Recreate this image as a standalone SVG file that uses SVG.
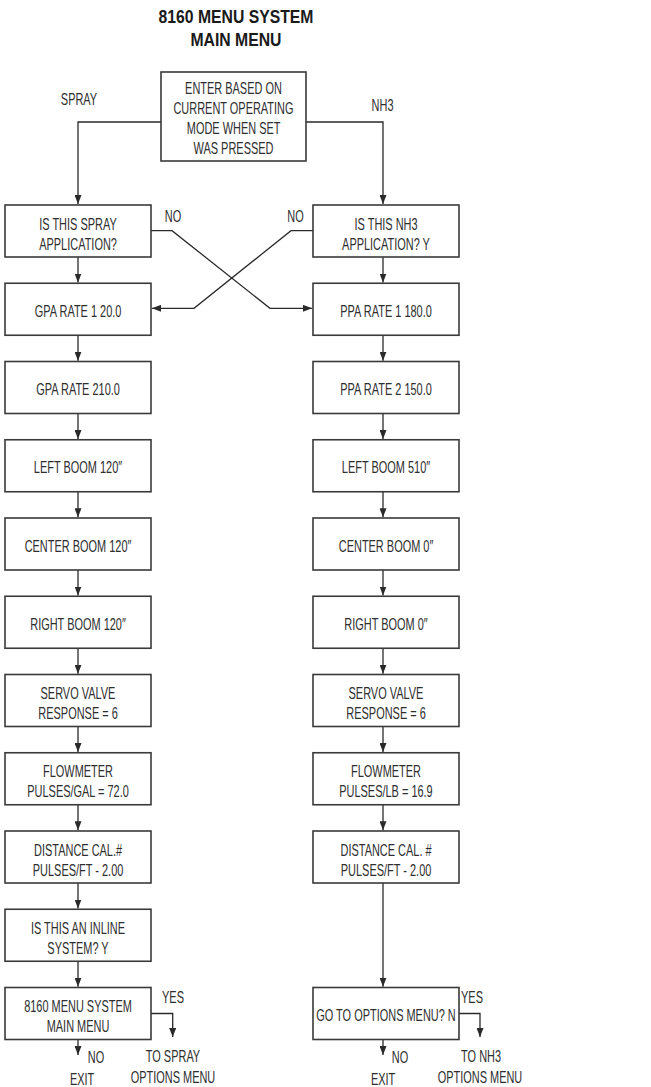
<svg xmlns="http://www.w3.org/2000/svg" width="651" height="1087" viewBox="0 0 651 1087">
<style>
.b{fill:#fff;stroke:#3a3a3a;stroke-width:1.6}
.c{fill:none;stroke:#2a2a2a;stroke-width:1.3}
text{font-family:"Liberation Sans",Arial,sans-serif;font-size:16px;fill:#2e2e2e;text-anchor:middle;transform-box:fill-box;transform-origin:center;transform:scaleX(0.685)}
.h{font-size:19px;font-weight:bold;fill:#1a1a1a;transform:scaleX(0.83)}
</style>
<defs>
<marker id="a" markerUnits="userSpaceOnUse" markerWidth="10" markerHeight="7" refX="9" refY="3.5" orient="auto">
<path d="M0,0 L9,3.5 L0,7 z" fill="#2a2a2a"/>
</marker>
</defs>
<rect width="651" height="1087" fill="#fff"/>
<g id="title">
<text class="h" x="236" y="23">8160 MENU SYSTEM</text>
<text class="h" x="236" y="46">MAIN MENU</text>
</g>
<g id="connectors">
<path class="c" marker-end="url(#a)" d="M161,122 H78 V204"/>
<path class="c" marker-end="url(#a)" d="M306,122 H383 V204"/>
<path class="c" marker-end="url(#a)" d="M151,230.7 H172 L270,308.3 H312"/>
<path class="c" marker-end="url(#a)" d="M313,230.7 H291 L194,308.3 H152"/>
<path class="c" marker-end="url(#a)" d="M78,257 V282.5"/>
<path class="c" marker-end="url(#a)" d="M78,335.25 V360.75"/>
<path class="c" marker-end="url(#a)" d="M78,413.5 V439"/>
<path class="c" marker-end="url(#a)" d="M78,491.75 V517.25"/>
<path class="c" marker-end="url(#a)" d="M78,570 V595.5"/>
<path class="c" marker-end="url(#a)" d="M78,648.25 V673.75"/>
<path class="c" marker-end="url(#a)" d="M78,726.5 V752"/>
<path class="c" marker-end="url(#a)" d="M78,804.75 V830.25"/>
<path class="c" marker-end="url(#a)" d="M78,883 V908.5"/>
<path class="c" marker-end="url(#a)" d="M78,961.25 V986.75"/>
<path class="c" marker-end="url(#a)" d="M383,257 V282.5"/>
<path class="c" marker-end="url(#a)" d="M383,335.25 V360.75"/>
<path class="c" marker-end="url(#a)" d="M383,413.5 V439"/>
<path class="c" marker-end="url(#a)" d="M383,491.75 V517.25"/>
<path class="c" marker-end="url(#a)" d="M383,570 V595.5"/>
<path class="c" marker-end="url(#a)" d="M383,648.25 V673.75"/>
<path class="c" marker-end="url(#a)" d="M383,726.5 V752"/>
<path class="c" marker-end="url(#a)" d="M383,804.75 V830.25"/>
<path class="c" marker-end="url(#a)" d="M383,883 V986.75"/>
<path class="c" marker-end="url(#a)" d="M151,1013.5 H172.7 V1037"/>
<path class="c" marker-end="url(#a)" d="M78,1039.5 V1055"/>
<path class="c" marker-end="url(#a)" d="M459,1013.5 H480 V1037"/>
<path class="c" marker-end="url(#a)" d="M383,1039.5 V1055"/>
</g>
<g id="labels">
<text x="79" y="104.8">SPRAY</text>
<text x="382.5" y="110.8">NH3</text>
<text x="173" y="221.8">NO</text>
<text x="295.5" y="221.8">NO</text>
<text x="173" y="1003.3">YES</text>
<text x="173" y="1062.3">TO SPRAY</text>
<text x="173" y="1082.8">OPTIONS MENU</text>
<text x="96" y="1063.3">NO</text>
<text x="82" y="1084.8">EXIT</text>
<text x="472" y="1003.3">YES</text>
<text x="481" y="1062.3">TO NH3</text>
<text x="480" y="1082.8">OPTIONS MENU</text>
<text x="400" y="1063.3">NO</text>
<text x="383" y="1084.8">EXIT</text>
</g>
<g id="n-start">
<rect class="b" x="161" y="72" width="145" height="89"/>
<text x="233.5" y="94.3">ENTER BASED ON</text>
<text x="233.5" y="114.3">CURRENT OPERATING</text>
<text x="233.5" y="134.3">MODE WHEN SET</text>
<text x="233.5" y="154.3">WAS PRESSED</text>
</g>
<g id="n-l1"><rect class="b" x="5" y="205" width="146" height="52"/><text x="78" y="229.8">IS THIS SPRAY</text><text x="78" y="249.8">APPLICATION?</text></g>
<g id="n-l2"><rect class="b" x="5" y="283.25" width="146" height="52"/><text x="78" y="317">GPA RATE 1 20.0</text></g>
<g id="n-l3"><rect class="b" x="5" y="361.5" width="146" height="52"/><text x="78" y="395.3">GPA RATE 210.0</text></g>
<g id="n-l4"><rect class="b" x="5" y="439.75" width="146" height="52"/><text x="78" y="473.5">LEFT BOOM 120″</text></g>
<g id="n-l5"><rect class="b" x="5" y="518" width="146" height="52"/><text x="78" y="551.8">CENTER BOOM 120″</text></g>
<g id="n-l6"><rect class="b" x="5" y="596.25" width="146" height="52"/><text x="78" y="630">RIGHT BOOM 120″</text></g>
<g id="n-l7"><rect class="b" x="5" y="674.5" width="146" height="52"/><text x="78" y="699.3">SERVO VALVE</text><text x="78" y="719.3">RESPONSE = 6</text></g>
<g id="n-l8"><rect class="b" x="5" y="752.75" width="146" height="52"/><text x="78" y="777.5">FLOWMETER</text><text x="78" y="797.5">PULSES/GAL = 72.0</text></g>
<g id="n-l9"><rect class="b" x="5" y="831" width="146" height="52"/><text x="78" y="855.8">DISTANCE CAL.#</text><text x="78" y="875.8">PULSES/FT - 2.00</text></g>
<g id="n-l10"><rect class="b" x="5" y="909.25" width="146" height="52"/><text x="78" y="934">IS THIS AN INLINE</text><text x="78" y="954">SYSTEM? Y</text></g>
<g id="n-l11"><rect class="b" x="5" y="987.5" width="146" height="52"/><text x="78" y="1012.3">8160 MENU SYSTEM</text><text x="78" y="1032.3">MAIN MENU</text></g>
<g id="n-r1"><rect class="b" x="313" y="205" width="146" height="52"/><text x="386" y="229.8">IS THIS NH3</text><text x="386" y="249.8">APPLICATION? Y</text></g>
<g id="n-r2"><rect class="b" x="313" y="283.25" width="146" height="52"/><text x="386" y="317">PPA RATE 1 180.0</text></g>
<g id="n-r3"><rect class="b" x="313" y="361.5" width="146" height="52"/><text x="386" y="395.3">PPA RATE 2 150.0</text></g>
<g id="n-r4"><rect class="b" x="313" y="439.75" width="146" height="52"/><text x="386" y="473.5">LEFT BOOM 510″</text></g>
<g id="n-r5"><rect class="b" x="313" y="518" width="146" height="52"/><text x="386" y="551.8">CENTER BOOM 0″</text></g>
<g id="n-r6"><rect class="b" x="313" y="596.25" width="146" height="52"/><text x="386" y="630">RIGHT BOOM 0″</text></g>
<g id="n-r7"><rect class="b" x="313" y="674.5" width="146" height="52"/><text x="386" y="699.3">SERVO VALVE</text><text x="386" y="719.3">RESPONSE = 6</text></g>
<g id="n-r8"><rect class="b" x="313" y="752.75" width="146" height="52"/><text x="386" y="777.5">FLOWMETER</text><text x="386" y="797.5">PULSES/LB = 16.9</text></g>
<g id="n-r9"><rect class="b" x="313" y="831" width="146" height="52"/><text x="386" y="855.8">DISTANCE CAL. #</text><text x="386" y="875.8">PULSES/FT - 2.00</text></g>
<g id="n-r11"><rect class="b" x="313" y="987.5" width="146" height="52"/><text x="386" y="1021.3">GO TO OPTIONS MENU? N</text></g>
</svg>
